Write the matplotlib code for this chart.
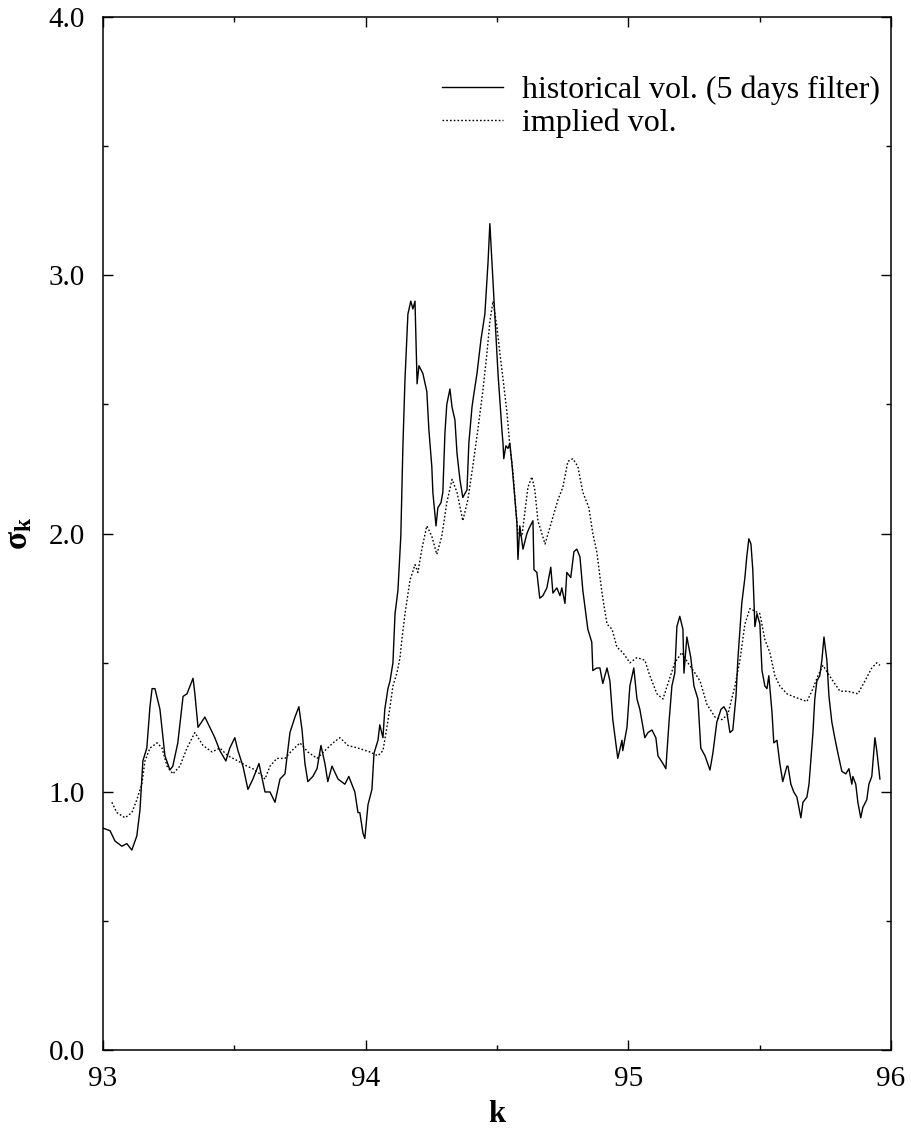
import matplotlib
matplotlib.use("Agg")
import matplotlib.pyplot as plt
from matplotlib.ticker import MultipleLocator, FormatStrFormatter

plt.rcParams["font.family"] = ["Liberation Serif", "DejaVu Serif"]
plt.rcParams["mathtext.fontset"] = "custom"
plt.rcParams["mathtext.rm"] = "Liberation Serif"
plt.rcParams["mathtext.it"] = "Liberation Serif:italic"
plt.rcParams["mathtext.bf"] = "Liberation Serif:bold"

# historical volatility (5 days filter)
hist_k = [
    93.000, 93.027, 93.046, 93.072, 93.091, 93.110, 93.129, 93.141, 93.152, 93.167,
    93.179, 93.187, 93.198, 93.217, 93.236, 93.255, 93.266, 93.285, 93.305, 93.320,
    93.343, 93.350, 93.362, 93.388, 93.407, 93.426, 93.445, 93.468, 93.483, 93.502,
    93.514, 93.533, 93.552, 93.571, 93.594, 93.617, 93.636, 93.655, 93.674, 93.693,
    93.712, 93.731, 93.746, 93.758, 93.769, 93.780, 93.799, 93.815, 93.830, 93.845,
    93.856, 93.872, 93.895, 93.921, 93.936, 93.959, 93.971, 93.978, 93.990, 93.997,
    94.009, 94.024, 94.032, 94.047, 94.054, 94.066, 94.073, 94.085, 94.093, 94.104,
    94.112, 94.123, 94.134, 94.142, 94.150, 94.161, 94.172, 94.180, 94.188, 94.196,
    94.203, 94.218, 94.233, 94.241, 94.252, 94.256, 94.268, 94.275, 94.287, 94.294,
    94.302, 94.309, 94.321, 94.329, 94.340, 94.348, 94.359, 94.370, 94.386, 94.393,
    94.405, 94.412, 94.424, 94.439, 94.454, 94.466, 94.473, 94.481, 94.492, 94.504,
    94.519, 94.523, 94.526, 94.534, 94.542, 94.549, 94.557, 94.568, 94.576, 94.580,
    94.587, 94.599, 94.614, 94.622, 94.637, 94.641, 94.652, 94.663, 94.675, 94.690,
    94.705, 94.713, 94.728, 94.740, 94.747, 94.759, 94.766, 94.781, 94.793, 94.804,
    94.816, 94.827, 94.846, 94.861, 94.865, 94.880, 94.892, 94.903, 94.919, 94.930,
    94.941, 94.960, 94.976, 94.979, 94.995, 95.006, 95.021, 95.033, 95.044, 95.063,
    95.075, 95.090, 95.105, 95.113, 95.132, 95.143, 95.155, 95.166, 95.177, 95.185,
    95.196, 95.208, 95.212, 95.223, 95.238, 95.250, 95.265, 95.276, 95.292, 95.311,
    95.322, 95.337, 95.353, 95.364, 95.375, 95.387, 95.398, 95.410, 95.417, 95.432,
    95.444, 95.451, 95.459, 95.467, 95.474, 95.482, 95.490, 95.501, 95.509, 95.520,
    95.528, 95.535, 95.547, 95.554, 95.566, 95.577, 95.588, 95.604, 95.608, 95.619,
    95.630, 95.642, 95.657, 95.665, 95.680, 95.688, 95.703, 95.710, 95.718, 95.729,
    95.737, 95.745, 95.756, 95.764, 95.775, 95.786, 95.798, 95.813, 95.828, 95.840,
    95.851, 95.855, 95.866, 95.874, 95.885, 95.893, 95.908, 95.916, 95.927, 95.939,
    95.946, 95.958,
]
hist_vol = [
    0.86, 0.85, 0.81, 0.79, 0.80, 0.775, 0.83, 0.93, 1.12, 1.17,
    1.33, 1.40, 1.40, 1.32, 1.14, 1.085, 1.10, 1.19, 1.37, 1.38,
    1.44, 1.38, 1.25, 1.29, 1.25, 1.21, 1.16, 1.12, 1.17, 1.21,
    1.16, 1.10, 1.01, 1.05, 1.11, 1.00, 1.00, 0.96, 1.05, 1.07,
    1.23, 1.29, 1.33, 1.24, 1.11, 1.04, 1.06, 1.09, 1.18, 1.11,
    1.04, 1.10, 1.05, 1.03, 1.06, 1.00, 0.92, 0.92, 0.84, 0.82,
    0.95, 1.01, 1.15, 1.20, 1.26, 1.21, 1.32, 1.40, 1.43, 1.50,
    1.69, 1.78, 1.99, 2.34, 2.60, 2.85, 2.90, 2.87, 2.90, 2.58,
    2.65, 2.62, 2.55, 2.40, 2.26, 2.16, 2.03, 2.10, 2.12, 2.16,
    2.39, 2.50, 2.56, 2.49, 2.44, 2.31, 2.21, 2.14, 2.17, 2.35,
    2.49, 2.54, 2.62, 2.75, 2.85, 3.05, 3.20, 3.05, 2.85, 2.62,
    2.40, 2.35, 2.29, 2.34, 2.33, 2.35, 2.27, 2.14, 2.04, 1.90,
    2.03, 1.94, 2.00, 2.02, 2.05, 1.86, 1.85, 1.75, 1.76, 1.79,
    1.87, 1.77, 1.79, 1.76, 1.79, 1.73, 1.85, 1.83, 1.93, 1.94,
    1.91, 1.78, 1.63, 1.58, 1.47, 1.48, 1.48, 1.42, 1.48, 1.43,
    1.28, 1.13, 1.20, 1.16, 1.25, 1.41, 1.48, 1.36, 1.32, 1.21,
    1.23, 1.24, 1.21, 1.14, 1.11, 1.09, 1.27, 1.41, 1.46, 1.64,
    1.68, 1.63, 1.46, 1.60, 1.52, 1.41, 1.36, 1.17, 1.14, 1.085,
    1.15, 1.27, 1.32, 1.33, 1.31, 1.23, 1.24, 1.37, 1.51, 1.73,
    1.83, 1.91, 1.98, 1.96, 1.86, 1.64, 1.69, 1.65, 1.47, 1.41,
    1.40, 1.45, 1.31, 1.19, 1.20, 1.11, 1.04, 1.10, 1.10, 1.03,
    1.00, 0.98, 0.90, 0.96, 0.98, 1.03, 1.23, 1.36, 1.43, 1.45,
    1.51, 1.60, 1.51, 1.37, 1.27, 1.21, 1.15, 1.08, 1.07, 1.09,
    1.03, 1.06, 1.03, 0.96, 0.90, 0.94, 0.97, 1.03, 1.06, 1.21,
    1.16, 1.05,
]

# implied volatility
impl_k = [
    93.034, 93.053, 93.084, 93.110, 93.129, 93.148, 93.160, 93.179, 93.206, 93.225,
    93.244, 93.266, 93.293, 93.320, 93.350, 93.381, 93.415, 93.445, 93.476, 93.514,
    93.548, 93.571, 93.598, 93.617, 93.636, 93.662, 93.693, 93.719, 93.750, 93.780,
    93.815, 93.845, 93.876, 93.902, 93.933, 93.971, 94.016, 94.047, 94.066, 94.081,
    94.093, 94.104, 94.119, 94.131, 94.138, 94.150, 94.169, 94.188, 94.199, 94.214,
    94.233, 94.252, 94.271, 94.290, 94.309, 94.329, 94.348, 94.370, 94.389, 94.408,
    94.427, 94.446, 94.462, 94.473, 94.485, 94.500, 94.511, 94.523, 94.538, 94.549,
    94.561, 94.568, 94.580, 94.595, 94.606, 94.618, 94.633, 94.644, 94.656, 94.683,
    94.709, 94.732, 94.751, 94.770, 94.789, 94.808, 94.827, 94.850, 94.865, 94.880,
    94.900, 94.919, 94.938, 94.957, 94.979, 95.006, 95.033, 95.063, 95.082, 95.109,
    95.132, 95.151, 95.177, 95.204, 95.227, 95.254, 95.273, 95.299, 95.330, 95.356,
    95.379, 95.406, 95.425, 95.444, 95.463, 95.482, 95.501, 95.520, 95.539, 95.558,
    95.577, 95.604, 95.627, 95.653, 95.680, 95.703, 95.722, 95.741, 95.760, 95.779,
    95.806, 95.836, 95.874, 95.901, 95.927, 95.946, 95.958,
]
impl_vol = [
    0.96, 0.92, 0.90, 0.92, 0.97, 1.03, 1.12, 1.17, 1.19, 1.17,
    1.10, 1.07, 1.10, 1.17, 1.23, 1.18, 1.155, 1.17, 1.14, 1.12,
    1.10, 1.09, 1.07, 1.05, 1.10, 1.13, 1.13, 1.16, 1.19, 1.155,
    1.13, 1.16, 1.19, 1.21, 1.18, 1.17, 1.155, 1.14, 1.16, 1.25,
    1.33, 1.41, 1.46, 1.52, 1.59, 1.69, 1.82, 1.88, 1.85, 1.94,
    2.03, 1.99, 1.92, 1.99, 2.12, 2.21, 2.16, 2.05, 2.13, 2.26,
    2.40, 2.55, 2.70, 2.82, 2.90, 2.80, 2.70, 2.60, 2.47, 2.34,
    2.24, 2.14, 2.00, 1.99, 2.08, 2.18, 2.22, 2.17, 2.05, 1.96,
    2.05, 2.13, 2.18, 2.28, 2.29, 2.26, 2.16, 2.10, 2.00, 1.93,
    1.77, 1.65, 1.63, 1.56, 1.54, 1.50, 1.52, 1.51, 1.45, 1.38,
    1.36, 1.42, 1.50, 1.54, 1.50, 1.46, 1.43, 1.34, 1.29, 1.28,
    1.30, 1.41, 1.51, 1.65, 1.71, 1.70, 1.69, 1.59, 1.54, 1.45,
    1.41, 1.38, 1.37, 1.36, 1.35, 1.40, 1.45, 1.49, 1.46, 1.43,
    1.39, 1.39, 1.38, 1.43, 1.48, 1.50, 1.49,
]

fig = plt.figure(figsize=(9.11, 11.33), dpi=100)
ax = fig.add_axes([0.113, 0.073, 0.865, 0.912])

ax.plot(hist_k, hist_vol, color="black", lw=1.0, label="historical vol. (5 days filter)")
ax.plot(impl_k, impl_vol, color="black", lw=1.0, linestyle=(0, (1.2, 1.5)),
        label="implied vol.")

ax.set_xlim(93, 96)
ax.set_ylim(0, 4)
ax.xaxis.set_major_locator(MultipleLocator(1))
ax.xaxis.set_minor_locator(MultipleLocator(0.5))
ax.yaxis.set_major_locator(MultipleLocator(1))
ax.yaxis.set_minor_locator(MultipleLocator(0.5))
ax.yaxis.set_major_formatter(FormatStrFormatter("%.1f"))
ax.tick_params(which="both", direction="in", top=True, right=True, width=1.0,
               labelsize=21)
ax.tick_params(which="major", length=7)
ax.tick_params(which="minor", length=3.6)
ax.tick_params(axis="x", pad=11)
ax.tick_params(axis="y", pad=13)
for s in ax.spines.values():
    s.set_linewidth(1.1)

ax.set_xlabel("k", fontsize=22, fontweight="bold", labelpad=6)
ax.set_ylabel("σ$_\\mathbf{k}$", fontsize=24, fontweight="bold", labelpad=10)

ax.legend(loc="upper right", bbox_to_anchor=(0.986, 0.943), frameon=False,
          borderaxespad=0, borderpad=0,
          fontsize=23, handlelength=1.9, handletextpad=0.6, labelspacing=0.1)

plt.savefig("out.png", dpi=100)
plt.close()
